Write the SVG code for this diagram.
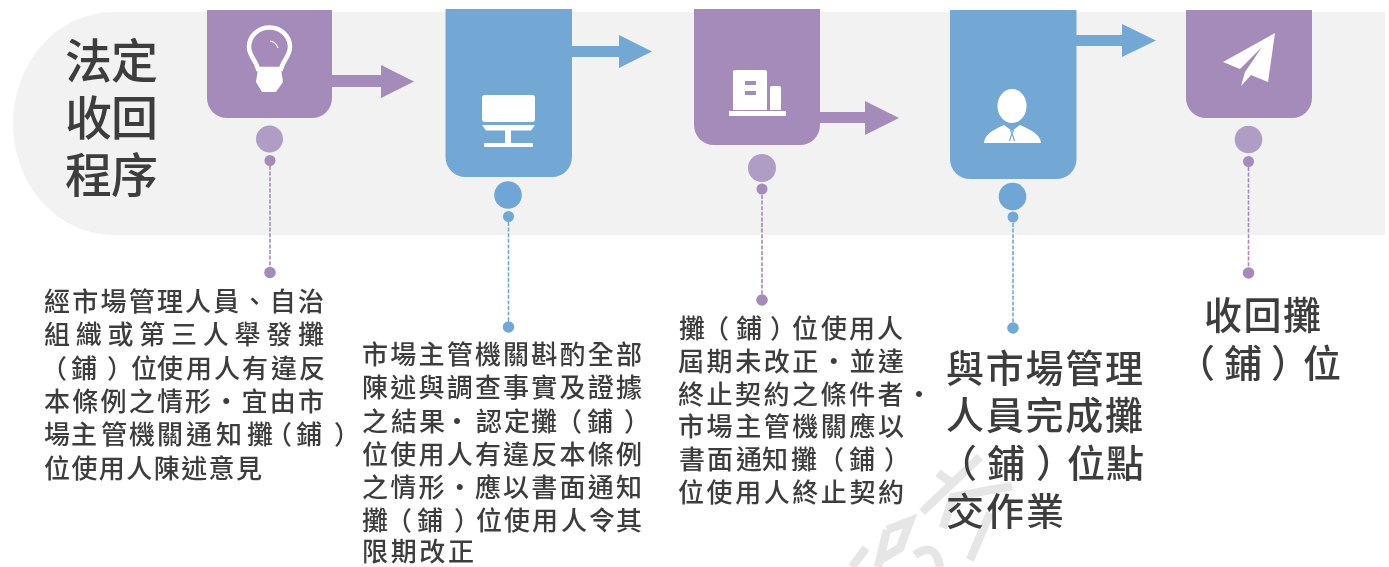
<svg xmlns="http://www.w3.org/2000/svg" width="1389" height="567" viewBox="0 0 1389 567" xml:lang="zh-Hant" lang="zh-Hant">
<style>
.p{fill:#a48bb9}.b{fill:#74a8d4}
.pl{fill:#b09dc6}.bl{fill:#6fa6d6}
.w{fill:#fff}
.dp{stroke:#a48bb9;stroke-width:1.6;stroke-dasharray:4 1.6;fill:none}
.db{stroke:#74a8d4;stroke-width:1.6;stroke-dasharray:4 1.6;fill:none}
text{font-family:"Noto Sans CJK TC","Liberation Sans",sans-serif;fill:#3c3c3c;font-weight:500;filter:url(#soft)}
.s{font-size:26px}.m{font-size:38px}.t{font-size:47px}
.wm{stroke:#e6e6e6;stroke-width:8.500;fill:none}
</style>
<defs><filter id="soft" x="-5%" y="-20%" width="110%" height="140%"><feGaussianBlur stdDeviation="0.4"/></filter></defs>
<rect width="1389" height="567" fill="#fff"/>
<path id="band" d="M1385 12H113A100 111.500 0 0 0 113 235H1385Z" fill="#f2f2f2"/>
<path id="watermark" class="wm" d="M922 512L980 457M938 473L952 483M943 528L953 497 1012 486M990 513L970 560M866 548L852 567M887 530L878 567M887 530L910 521 900 548 880 560M915 555Q935 540 940 567"/>
<g id="connectors">
<path class="p" d="M332 75H381V65L414 81.500 381 98V87H332Z"/>
<path class="b" d="M572 46H619V35L652 51.500 619 68V57H572Z"/>
<path class="p" d="M820 112H865V101L899 118 865 135V123H820Z"/>
<path class="b" d="M1076 35H1122V24L1156 40.500 1122 57V46H1076Z"/>
<line class="dp" x1="270" y1="166" x2="270" y2="267"/>
<line class="db" x1="508.500" y1="222" x2="508.500" y2="322"/>
<line class="dp" x1="762" y1="195" x2="762" y2="295"/>
<line class="db" x1="1013" y1="223" x2="1013" y2="323"/>
<line class="dp" x1="1248.500" y1="167" x2="1248.500" y2="268"/>
</g>
<g id="title"><text class="t" x="65" y="78" textLength="93">法定</text><text class="t" x="65" y="135" textLength="93">收回</text><text class="t" x="65" y="192" textLength="93">程序</text></g>
<g id="node1">
<path class="p" d="M207 10H332V98A20 20 0 0 1 312 118H227A20 20 0 0 1 207 98Z"/>
<path d="M258 69C256 60 249 56 249 47A20.500 19.500 0 0 1 290 47C290 56 283 60 281 69Z" fill="none" stroke="#fff" stroke-width="4.500"/>
<path class="w" d="M258 69H281L283 82 276 92 262 92 256 82Z"/>
<path d="M270 41Q276 42 278 48" fill="none" stroke="#fff" stroke-width="1.200"/>
<circle class="pl" cx="269.500" cy="139" r="13.500"/><circle class="p" cx="270" cy="160.500" r="5.500"/><circle class="p" cx="270" cy="272.500" r="5.800"/>
<text class="s" x="44" y="311" textLength="280">經市場管理人員、自治</text>
<text class="s" x="44" y="344" textLength="280">組織或第三人舉發攤</text>
<text class="s" x="41 71 107 131 157 186 214 242 271 299" y="378">（鋪）位使用人有違反</text>
<text class="s" x="44" y="411" textLength="280">本條例之情形‧宜由市</text>
<text class="s" x="44 71 101 129 157 186 216 247 266 296 334" y="444">場主管機關通知攤（鋪）</text>
<text class="s" x="44" y="478" textLength="218">位使用人陳述意見</text>
</g>
<g id="node2">
<path class="b" d="M445.500 9H572V157A20 20 0 0 1 552 177H465.500A20 20 0 0 1 445.500 157Z"/>
<rect class="w" x="482" y="95" width="53" height="27" rx="3"/><path class="w" d="M482 125H535L531 130.500H486Z"/><rect class="w" x="505" y="130" width="6" height="14"/><rect class="w" x="484" y="143" width="49" height="4" rx="1"/>
<circle class="bl" cx="508" cy="195" r="13.800"/><circle class="b" cx="508.500" cy="216.500" r="5.500"/><circle class="b" cx="508.500" cy="327" r="5.800"/>
<text class="s" x="362" y="364" textLength="280">市場主管機關斟酌全部</text>
<text class="s" x="362" y="397" textLength="280">陳述與調查事實及證據</text>
<text class="s" x="362 391 419 444 476 504 531 556 587 624" y="431">之結果‧認定攤（鋪）</text>
<text class="s" x="362" y="464" textLength="280">位使用人有違反本條例</text>
<text class="s" x="362" y="497" textLength="280">之情形‧應以書面通知</text>
<text class="s" x="362 386 417 454 476 504 532 561 589 616" y="530">攤（鋪）位使用人令其</text>
<text class="s" x="362" y="561" textLength="112">限期改正</text>
</g>
<g id="node3">
<path class="p" d="M694 9H820V125A20 20 0 0 1 800 145H714A20 20 0 0 1 694 125Z"/>
<path class="w" d="M733 110V72Q733 70 735 70H765Q767 70 767 72V110Z"/><rect class="p" x="745" y="81" width="11" height="4"/><rect class="p" x="745" y="91" width="11" height="4"/>
<path class="w" d="M770 110V88Q770 86 772 86H779Q781 86 781 88V110Z"/><rect class="w" x="729" y="111" width="57" height="5"/>
<circle class="pl" cx="762" cy="168" r="14"/><circle class="p" cx="762" cy="189" r="5.500"/><circle class="p" cx="762" cy="300" r="5.800"/>
<text class="s" x="679 703 736 770 792 821 849 877" y="338">攤（鋪）位使用人</text>
<text class="s" x="678" y="371" textLength="226">屆期未改正‧並達</text>
<text class="s" x="678" y="404" textLength="254">終止契約之條件者‧</text>
<text class="s" x="678" y="436" textLength="226">市場主管機關應以</text>
<text class="s" x="679 707 736 762 791 818 849 884" y="469">書面通知攤（鋪）</text>
<text class="s" x="678" y="502" textLength="226">位使用人終止契約</text>
</g>
<g id="node4">
<path class="b" d="M950 10H1076.500V159A20 20 0 0 1 1056.500 179H970A20 20 0 0 1 950 159Z"/>
<ellipse class="w" cx="1012" cy="106" rx="14.500" ry="17"/>
<path class="w" d="M984 143C985 134 993 130 1004 125L1012 131 1020 125C1031 130 1040 134 1041 143Z"/>
<path d="M1010 130L1012 133 1014 130M1012 133L1009.500 141M1012 133L1014.500 141" fill="none" stroke="#74a8d4" stroke-width="1.200"/>
<circle class="bl" cx="1012.500" cy="196.500" r="13.800"/><circle class="b" cx="1013" cy="217" r="5.500"/><circle class="b" cx="1013" cy="328" r="5.800"/>
<text class="m" x="946" y="382" textLength="197">與市場管理</text>
<text class="m" x="946" y="429" textLength="197">人員完成攤</text>
<text class="m" x="939 987 1036 1067 1106" y="477">（鋪）位點</text>
<text class="m" x="946" y="525" textLength="118">交作業</text>
</g>
<g id="node5">
<path class="p" d="M1186 10H1312V98A20 20 0 0 1 1292 118H1206A20 20 0 0 1 1186 98Z"/>
<path class="w" d="M1275 33L1223 62 1240 69 1262 47 1245 72 1241 86 1251 75 1268 82Z"/>
<circle class="pl" cx="1248.500" cy="139.500" r="13.800"/><circle class="p" cx="1248.500" cy="161.500" r="5.500"/><circle class="p" cx="1248.500" cy="273" r="5.800"/>
<text class="m" x="1204" y="329" textLength="117">收回攤</text>
<text class="m" x="1177 1224 1271 1303" y="377">（鋪）位</text>
</g>
</svg>
